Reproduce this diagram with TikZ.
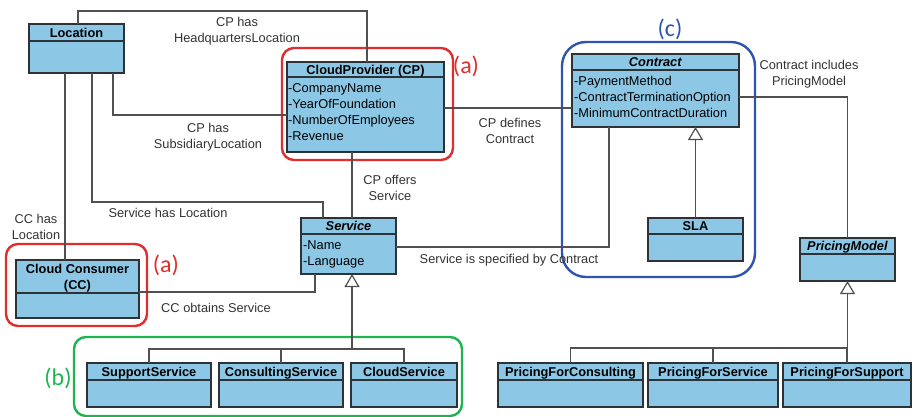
\documentclass[tikz,border=0pt]{standalone}
\usepackage{fontspec}
\setmainfont{Liberation Sans}
\newfontfamily\tagfont{Carlito}
\usetikzlibrary{arrows.meta,calc}
\definecolor{classfill}{RGB}{140,200,230}
\definecolor{classline}{RGB}{45,50,55}
\definecolor{linegray}{RGB}{80,80,80}
\definecolor{labelgray}{RGB}{50,50,50}
\definecolor{tagred}{RGB}{225,45,45}
\definecolor{tagblue}{RGB}{45,85,175}
\definecolor{taggreen}{RGB}{30,180,80}

% [title shift], name, x1, y1, x2, y2, header height, title
\newcommand{\umlclass}[8][0]{%
  \node[classbox, anchor=north west, minimum width=#5pt-#3pt, minimum height=#6pt-#4pt] (#2) at (#3,#4) {};
  \draw[sepline] (#2.north west) ++(0,#7) -- ++(#5-#3,0);
  \path (#2.north) ++(0,#7/2+4.6+#1) node[classtitle, anchor=base] (#2-title) {#8};
}

\begin{document}
\begin{tikzpicture}[x=1pt, y=-1pt, font=\fontsize{12.8}{16}\selectfont,
  classbox/.style={draw=classline, fill=classfill, line width=1.1pt, inner sep=0pt, outer sep=0pt},
  sepline/.style={draw=classline, line width=1.1pt},
  classtitle/.style={font=\fontsize{12.8}{16}\selectfont\bfseries, inner sep=0pt, align=center},
  attrs/.style={inner sep=0pt, align=left, anchor=north west},
  assoc/.style={draw=linegray, line width=1.1pt},
  gen/.style={assoc, line width=1.6pt, -{Triangle[open, length=13pt, width=15pt, fill=white, line width=1.2pt]}},
  lbl/.style={text=labelgray, align=center, inner sep=0pt},
  group/.style={line width=2.4pt, rounded corners=12pt},
  tag/.style={font=\tagfont\fontsize{24}{24}\selectfont, inner sep=0pt}
  ]
  \useasboundingbox (0,0) rectangle (912,417);

  % highlighted groups
  \draw[group, draw=tagred] (282,48) rectangle (453,160);
  \draw[group, draw=tagred] (6,244) rectangle (147,326);
  \draw[group, draw=taggreen] (74,337) rectangle (462,416);
  \draw[group, draw=tagblue, rounded corners=24pt] (562,42) rectangle (755,277);
  \node[tag, text=tagred] (tag-a1) at (466,66) {(a)};
  \node[tag, text=tagred] (tag-a2) at (166,265) {(a)};
  \node[tag, text=taggreen] (tag-b) at (58,378) {(b)};
  \node[tag, text=tagblue] (tag-c) at (670,29) {(c)};

  % classes
  \umlclass{loc}{29}{24}{124}{73}{17}{Location}
  \umlclass{cp}{287}{62}{444}{152}{15}{CloudProvider (CP)}
  \umlclass{contract}{572}{54}{739}{127}{16}{\textit{Contract}}
  \umlclass{service}{301}{218}{396}{274}{16}{\textit{Service}}
  \umlclass[8.5]{cc}{16}{260}{139}{318}{33}{Cloud Consumer\\(CC)}
  \umlclass{sla}{648}{218}{743}{261}{16}{SLA}
  \umlclass{pm}{800}{238}{895}{281}{16}{\textit{PricingModel}}
  \umlclass{sup}{87}{363}{211}{407}{17}{SupportService}
  \umlclass{cons}{219}{363}{343}{407}{17}{ConsultingService}
  \umlclass{cloud}{351}{363}{457}{407}{17}{CloudService}
  \umlclass{pfc}{498}{363}{643}{407}{17}{PricingForConsulting}
  \umlclass{pfs}{648}{363}{778}{407}{17}{PricingForService}
  \umlclass{pfsup}{783}{363}{911}{407}{17}{PricingForSupport}

  \node[attrs] (cp-attrs) at (288,83.5) {-CompanyName\\-YearOfFoundation\\-NumberOfEmployees\\-Revenue};
  \node[attrs] (contract-attrs) at (574,76.5) {-PaymentMethod\\-ContractTerminationOption\\-MinimumContractDuration};
  \node[attrs] (service-attrs) at (303,240.5) {-Name\\-Language};

  % associations
  \draw[assoc] (loc.north -| 78,0) |- (367,11) -- (cp.north -| 367,0);
  \draw[assoc] (loc.south -| 113,0) |- (cp.west |- 0,115);
  \draw[assoc] (loc.south -| 92,0) |- (323,202) -- (service.north -| 323,0);
  \draw[assoc] (loc.south -| 65,0) -- (cc.north -| 65,0);
  \draw[assoc] (cp.south -| 352,0) -- (service.north -| 352,0);
  \draw[assoc] (cc.east |- 0,292) -| (service.south -| 315,0);
  \draw[assoc] (cp.east |- 0,108) -- (contract.west |- 0,108);
  \draw[assoc] (contract.east |- 0,97) -| (pm.north);
  \draw[assoc] (service.east |- 0,247) -| (contract.south -| 609,0);

  \node[lbl] (hq-lbl) at (237,31) {CP has\\HeadquartersLocation};
  \node[lbl] (sub-lbl) at (208,137) {CP has\\SubsidiaryLocation};
  \node[lbl] (svcloc-lbl) at (168,213) {Service has Location};
  \node[lbl] (ccloc-lbl) at (36,227) {CC has\\Location};
  \node[lbl] (offers-lbl) at (390,188) {CP offers\\Service};
  \node[lbl] (obtains-lbl) at (216,308) {CC obtains Service};
  \node[lbl] (defines-lbl) at (510,131) {CP defines\\Contract};
  \node[lbl] (includes-lbl) at (809,74) {Contract includes\\PricingModel};
  \node[lbl] (specified-lbl) at (509,260) {Service is specified by Contract};

  % generalizations
  \coordinate (svc-bus) at (352,349);
  \draw[assoc] (sup.north) |- (svc-bus) -| (cloud.north);
  \draw[assoc] (cons.north) -- (cons.north |- svc-bus);
  \draw[gen] (svc-bus) -- (service.south -| svc-bus);

  \coordinate (pm-bus) at (pm.south |- 0,348);
  \draw[assoc] (pfc.north) |- (pm-bus);
  \draw[assoc] (pfs.north) -- (pfs.north |- pm-bus);
  \draw[assoc] (pfsup.north) -- (pfsup.north |- pm-bus);
  \draw[gen] (pm-bus) -- (pm.south);

  \draw[gen] (sla.north) -- (contract.south -| sla.north);
\end{tikzpicture}
\end{document}
